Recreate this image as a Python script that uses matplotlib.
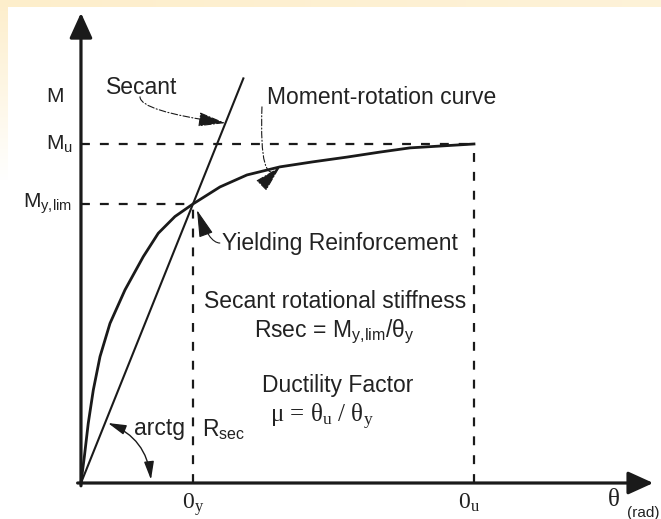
import numpy as np
import matplotlib
matplotlib.use('Agg')
import matplotlib.pyplot as plt

plt.rcParams['font.family'] = ['Liberation Sans', 'DejaVu Sans']
plt.rcParams['mathtext.fontset'] = 'custom'
plt.rcParams['mathtext.rm'] = 'Liberation Sans'
plt.rcParams['mathtext.it'] = 'Liberation Sans:italic'

# ---------------- data (normalised: theta_y = 1, M_y,lim = 1) ----------------
curve_theta = [0.0, 0.030, 0.065, 0.110, 0.170, 0.259, 0.393, 0.556, 0.690,
               0.839, 1.0, 1.241, 1.482, 1.777, 2.071, 2.375, 2.670, 2.937, 3.509]
curve_M = [0.0, 0.094, 0.214, 0.333, 0.453, 0.572, 0.692, 0.811, 0.895,
           0.955, 1.0, 1.061, 1.104, 1.133, 1.151, 1.168, 1.186, 1.201, 1.215]
theta_y = 1.0
theta_u = 3.509
M_ylim = 1.0
M_u = 1.215
secant_theta_end = 1.45

x_axis_end = 5.11
y_axis_end = 1.685

ink = '#1a1a1a'
txt = '#222222'

fig = plt.figure(figsize=(6.61, 5.19), dpi=100)

# background with light cream border band
bg = fig.add_axes([0, 0, 1, 1], zorder=0)
H, W = 519, 661
img = np.ones((H, W, 3))
cream = np.array([253, 238, 203]) / 255.0
alpha = np.zeros((H, W))
alpha[:7, :] = np.linspace(1.0, 0.75, W)[None, :]
left = np.clip(1 - np.arange(H) / 180.0, 0, 1)
alpha[:, :8] = np.maximum(alpha[:, :8], left[:, None])
img = img * (1 - alpha[..., None]) + cream * alpha[..., None]
bg.imshow(img, extent=[0, 1, 0, 1], aspect='auto', interpolation='bilinear')
bg.axis('off')

ax = fig.add_axes([0, 0, 1, 1], zorder=1)
ax.set_xlim(-0.723, 5.179)
ax.set_ylim(-0.129, 1.731)
ax.axis('off')
ax.patch.set_alpha(0)

# axes arrows
ax.annotate('', xy=(x_axis_end, 0), xytext=(-0.03, 0),
            arrowprops=dict(arrowstyle='-|>,head_length=1.1,head_width=0.5',
                            lw=2.3, color=ink, mutation_scale=14,
                            shrinkA=0, shrinkB=0))
ax.annotate('', xy=(0, y_axis_end), xytext=(0, -0.01),
            arrowprops=dict(arrowstyle='-|>,head_length=1.1,head_width=0.5',
                            lw=2.3, color=ink, mutation_scale=14,
                            shrinkA=0, shrinkB=0))

# dashed reference lines
dash_kw = dict(color=ink, lw=1.6, dashes=(4, 4.5))
ax.plot([0, theta_u], [M_u, M_u], **dash_kw)
ax.plot([theta_u, theta_u], [0, M_u], **dash_kw)
ax.plot([0, theta_y], [M_ylim, M_ylim], **dash_kw)
ax.plot([theta_y, theta_y], [0, M_ylim], **dash_kw)

# secant and moment-rotation curve
slope = M_ylim / theta_y
ax.plot([0, secant_theta_end], [0, slope * secant_theta_end], color=ink, lw=1.5)
ax.plot(curve_theta, curve_M, color=ink, lw=2.0, solid_joinstyle='round')

# axis labels
fs = 16.5
lfs = 15
ax.text(-0.232, 1.384, 'M', fontsize=lfs, ha='center', va='center', color=txt)
ax.text(-0.075, M_u, r'$\mathregular{M_u}$', fontsize=lfs, ha='right', va='center', color=txt)
ax.text(-0.075, M_ylim, r'$\mathregular{M_{y,\!lim}}$', fontsize=lfs, ha='right', va='center', color=txt)
ax.text(theta_y, -0.03, r'$\mathregular{0_y}$', fontsize=17, ha='center', va='top',
        color=txt, family='Liberation Serif')
ax.text(theta_u - 0.045, -0.03, r'$\mathregular{0_u}$', fontsize=17, ha='center', va='top',
        color=txt, family='Liberation Serif')
ax.text(4.759, -0.061, 'θ', fontsize=18, ha='center', va='center', color=txt,
        family='Liberation Serif')
ax.text(5.018, -0.108, '(rad)', fontsize=11, ha='center', va='center', color=txt)

# leader annotations
lead_kw = dict(arrowstyle='-|>,head_length=1.7,head_width=0.45', mutation_scale=10,
               color=ink, lw=0.8, shrinkA=0, shrinkB=0)

ax.text(0.545, 1.416, 'Secant', fontsize=fs, ha='center', va='center', color=txt)
ax.annotate('', xy=(1.29, 1.29), xytext=(0.527, 1.384),
            arrowprops=dict(connectionstyle='angle3,angleA=-90,angleB=-8',
                            linestyle=(0, (6, 2, 1, 2)), **lead_kw))

ax.text(1.661, 1.380, 'Moment-rotation curve', fontsize=fs, ha='left', va='center', color=txt)
ax.annotate('', xy=(1.777, 1.133), xytext=(1.616, 1.348),
            arrowprops=dict(connectionstyle='angle3,angleA=-92,angleB=45',
                            linestyle=(0, (6, 2, 1, 2)), **lead_kw))

ax.text(1.259, 0.860, 'Yielding Reinforcement', fontsize=fs, ha='left', va='center', color=txt)
ax.annotate('', xy=(1.036, 0.978), xytext=(1.24, 0.86),
            arrowprops=dict(connectionstyle='angle3,angleA=180,angleB=110', **lead_kw))

# central text
ax.text(2.268, 0.649, 'Secant rotational stiffness', fontsize=fs, ha='center', va='center', color=txt)
ax.text(2.259, 0.541, r'Rsec = $\mathregular{M_{y,\!lim}/θ_y}$', fontsize=fs, ha='center',
        va='center', color=txt)
ax.text(2.295, 0.351, 'Ductility Factor', fontsize=fs, ha='center', va='center', color=txt)
ax.text(2.152, 0.237, r'μ = $\mathregular{θ_u}$ / $\mathregular{θ_y}$', fontsize=18, ha='center',
        va='center', color=txt, family='Liberation Serif')

# angle arc
ax.text(0.705, 0.194, 'arctg', fontsize=fs, ha='center', va='center', color=txt)
ax.text(1.080, 0.190, r'$\mathregular{R_{sec}}$', fontsize=fs, ha='left', va='center', color=txt)
ax.annotate('', xy=(0.625, 0.012), xytext=(0.241, 0.215),
            arrowprops=dict(arrowstyle='<|-|>,head_length=1.1,head_width=0.3',
                            mutation_scale=10, color=ink, lw=1.0,
                            connectionstyle='arc3,rad=-0.3', shrinkA=0, shrinkB=0))

fig.savefig('out.png', dpi=100)
